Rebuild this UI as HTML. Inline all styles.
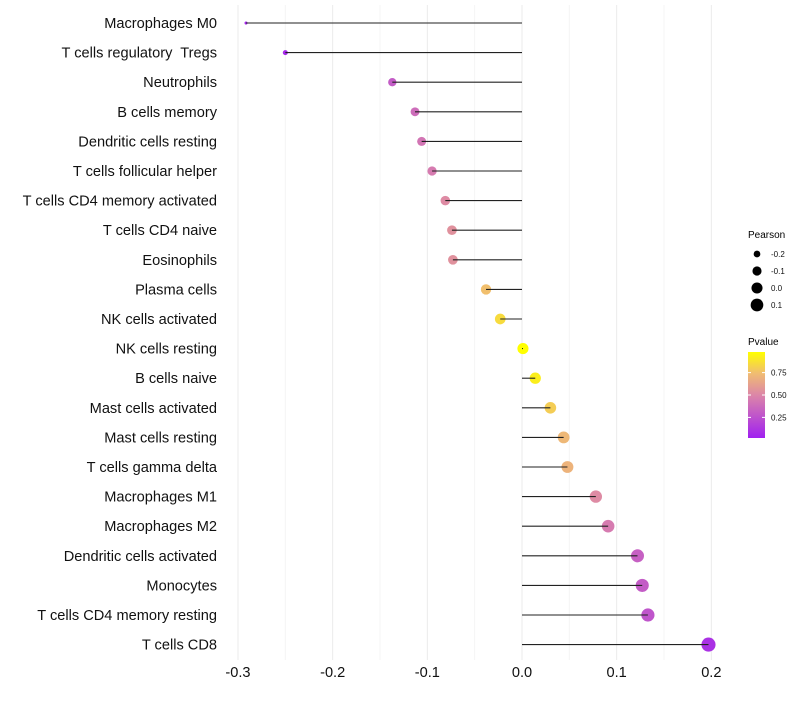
<!DOCTYPE html>
<html><head><meta charset="utf-8"><style>
body{margin:0;background:#fff}
svg{font-family:"Liberation Sans",sans-serif}
text{white-space:pre}
</style></head><body>
<svg id="chart" width="800" height="700" viewBox="0 0 800 700" xmlns="http://www.w3.org/2000/svg">
<g id="grid"></g>
<g id="marks"></g>
<g id="ylabels"></g>
<g id="xlabels"></g>
<g>
<text x="748" y="238" font-size="10">Pearson</text>
<g id="sizeleg"></g>
</g>
<g>
<text x="748" y="345" font-size="10">Pvalue</text>
<defs><linearGradient id="pg" x1="0" y1="1" x2="0" y2="0">
<stop offset="0" stop-color="#a020f0"/><stop offset="0.5" stop-color="#dc86a8"/><stop offset="0.75" stop-color="#f0bc72"/><stop offset="1" stop-color="#ffff00"/></linearGradient></defs>
<rect x="748" y="352" width="17" height="86" fill="url(#pg)"/>
<g id="colleg"></g>
</g>
</svg>
<script>
const categories=["Macrophages M0","T cells regulatory  Tregs","Neutrophils","B cells memory","Dendritic cells resting","T cells follicular helper","T cells CD4 memory activated","T cells CD4 naive","Eosinophils","Plasma cells","NK cells activated","NK cells resting","B cells naive","Mast cells activated","Mast cells resting","T cells gamma delta","Macrophages M1","Macrophages M2","Dendritic cells activated","Monocytes","T cells CD4 memory resting","T cells CD8"];
const pearson=[-0.2915,-0.25,-0.137,-0.113,-0.106,-0.095,-0.081,-0.074,-0.073,-0.038,-0.023,0.001,0.014,0.030,0.044,0.048,0.078,0.091,0.122,0.127,0.133,0.197];
const pvalue=[0.05,0.06,0.3,0.38,0.42,0.45,0.52,0.55,0.55,0.75,0.85,0.99,0.92,0.8,0.72,0.7,0.52,0.45,0.32,0.3,0.27,0.1];
const xTicks=[-0.3,-0.2,-0.1,0.0,0.1,0.2];
const xTickLabels=["-0.3","-0.2","-0.1","0.0","0.1","0.2"];
const sizeLegVals=[-0.2,-0.1,0.0,0.1];
const colLegVals=[0.25,0.5,0.75];
const NS="http://www.w3.org/2000/svg";
const x=v=>522+(v)*946.7;
const y=i=>23+i*29.6;
const vmin=Math.min(...pearson),vmax=Math.max(...pearson);
const rad=v=>{const t=(v-vmin)/(vmax-vmin);return 1.3*Math.sqrt(t*28+1.4);};
function lerp(a,b,t){return a.map((c,k)=>Math.round(c+(b[k]-c)*t));}
const stops=[[0,[160,32,240]],[0.5,[220,134,168]],[0.75,[240,188,114]],[1,[255,255,0]]];
function col(p){const t=Math.max(0,Math.min(1,(p-0.02)/0.96));for(let k=1;k<stops.length;k++){if(t<=stops[k][0]){const a=stops[k-1],b=stops[k];const c=lerp(a[1],b[1],(t-a[0])/(b[0]-a[0]));return `rgb(${c})`;}}return "rgb(255,255,0)";}
function mk(tag,attrs,parent){const e=document.createElementNS(NS,tag);for(const k in attrs)e.setAttribute(k,attrs[k]);parent.appendChild(e);return e;}
const grid=document.getElementById('grid'),marks=document.getElementById('marks'),yl=document.getElementById('ylabels'),xl=document.getElementById('xlabels');
for(let k=-6;k<=4;k++){const v=k*0.05;const l=mk('line',{x1:x(v),x2:x(v),y1:5,y2:660,stroke:k%2===0?'#ebebeb':'#f4f4f4','stroke-width':1},grid);

}
categories.forEach((c,i)=>{
const pt=mk('circle',{cx:x(pearson[i]),cy:y(i),r:rad(pearson[i]),fill:col(pvalue[i])},marks);


const ln=mk('line',{x1:x(0),x2:x(pearson[i]),y1:y(i),y2:y(i),stroke:'#222','stroke-width':1.1},marks);


const t=mk('text',{x:217,y:y(i)+5,'text-anchor':'end','font-size':14.6,fill:'#111'},yl);t.textContent=c;


});
xTicks.forEach((v,i)=>{const t=mk('text',{x:x(v),y:677,'text-anchor':'middle','font-size':14.6,fill:'#111'},xl);t.textContent=xTickLabels[i];

});
const sl=document.getElementById('sizeleg');
sizeLegVals.forEach((v,i)=>{const c=mk('circle',{cx:757,cy:254+i*17,r:rad(v),fill:'#000'},sl);


const t=mk('text',{x:771,y:257+i*17,'font-size':8,fill:'#111'},sl);t.textContent=v.toFixed(1);

});
const cl=document.getElementById('colleg');
colLegVals.forEach(v=>{const yy=438-(v-0.02)/0.96*86;
const tk=mk('line',{x1:748,x2:751,y1:yy,y2:yy,stroke:'#fff'},cl);
const tk2=mk('line',{x1:762,x2:765,y1:yy,y2:yy,stroke:'#fff'},cl);
const t=mk('text',{x:771,y:yy+3,'font-size':8,fill:'#111'},cl);t.textContent=v.toFixed(2);

});
</script>
</body></html>
